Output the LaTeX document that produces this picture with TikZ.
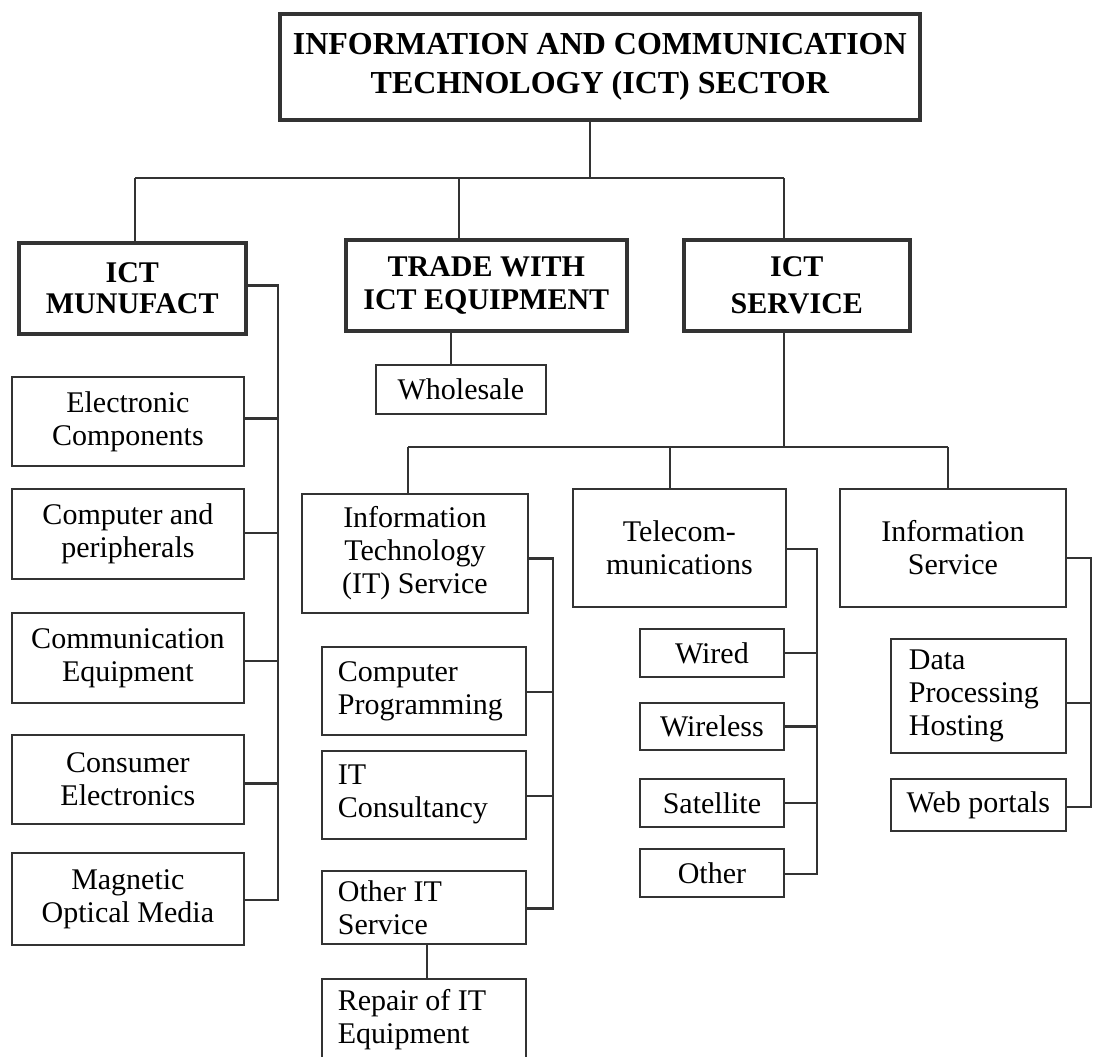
\documentclass[tikz,border=0pt]{standalone}
\usepackage{fontspec}
\setmainfont{Liberation Serif}
\definecolor{linec}{HTML}{333333}
\hyphenpenalty=10000
\exhyphenpenalty=10000
\begin{document}
\begin{tikzpicture}[x=1pt,y=-1pt,
  bigbox/.style={draw=linec, line width=3.6pt, anchor=north west, inner sep=0pt,
    align=center, font=\bfseries\fontsize{30}{33}\selectfont},
  smallbox/.style={draw=linec, line width=1.8pt, anchor=north west, inner sep=0pt,
    align=center, font=\fontsize{30}{33}\selectfont},
  leftbox/.style={smallbox, align=flush left, text width=#1},
  conn/.style={draw=linec, line width=2.6pt}]
\useasboundingbox (0,0) rectangle (1093,1057);
\fill[white] (0,0) rectangle (1093,1057);

% level 0
\node[bigbox, minimum width=640, minimum height=106, font=\bfseries\fontsize{32}{39}\selectfont]
  (top) at (278,12) {INFORMATION AND COMMUNICATION\\TECHNOLOGY (ICT) SECTOR};

% level 1
\node[bigbox, minimum width=227, minimum height=91, font=\bfseries\fontsize{30}{31}\selectfont]
  (mf) at (17,241) {ICT\\MUNUFACT};
\node[bigbox, minimum width=281, minimum height=91] (tr) at (344,238) {TRADE WITH\\ICT EQUIPMENT};
\node[bigbox, minimum width=226, minimum height=91, font=\bfseries\fontsize{30}{37}\selectfont]
  (sv) at (682,238) {ICT\\SERVICE};

% manufacturing column
\node[smallbox, minimum width=232, minimum height=89] (ec) at (11,376) {Electronic\\Components};
\node[smallbox, minimum width=232, minimum height=90] (cp) at (11,488) {Computer and\\peripherals};
\node[smallbox, minimum width=232, minimum height=90] (ce) at (11,612) {Communication\\Equipment};
\node[smallbox, minimum width=232, minimum height=89] (cs) at (11,734) {Consumer\\Electronics};
\node[smallbox, minimum width=232, minimum height=92] (mo) at (11,852) {Magnetic\\Optical Media};

% trade
\node[smallbox, minimum width=170, minimum height=49] (ws) at (375,364) {Wholesale};

% service level 2
\node[smallbox, minimum width=226, minimum height=119] (it) at (301,493) {Information\\Technology\\(IT) Service};
\node[smallbox, minimum width=213, minimum height=118] (tc) at (572,488) {Telecom-\\munications};
\node[smallbox, minimum width=226, minimum height=118] (is) at (839,488) {Information\\Service};

% IT service children
\node[leftbox=172, minimum width=204, minimum height=88] (pg) at (321,646) {Computer\\Programming};
\node[leftbox=172, minimum width=204, minimum height=88] (cy) at (321,750) {IT\\Consultancy};
\node[leftbox=172, minimum width=204, minimum height=73] (ot) at (321,870) {Other IT\\Service};
\node[leftbox=172, minimum width=204, minimum height=82] (rp) at (321,978) {Repair of IT\\Equipment};

% telecom children
\node[smallbox, minimum width=144, minimum height=48] (wd) at (639,628) {Wired};
\node[smallbox, minimum width=144, minimum height=47] (wl) at (639,702) {Wireless};
\node[smallbox, minimum width=144, minimum height=48] (st) at (639,778) {Satellite};
\node[smallbox, minimum width=144, minimum height=48] (oh) at (639,848) {Other};

% information service children
\node[leftbox=139, minimum width=175, minimum height=114] (dp) at (890,638) {Data\\Processing\\Hosting};
\node[smallbox, minimum width=175, minimum height=52] (wp) at (890,778) {Web portals};

% bus coordinates
\coordinate (b0) at (590,178);
\coordinate (b1) at (135,178);
\coordinate (b2) at (459,178);
\coordinate (b3) at (784,178);
\coordinate (c0) at (784,447);
\coordinate (c1) at (408,447);
\coordinate (c2) at (670,447);
\coordinate (c3) at (948,447);
\coordinate (mfx) at (278,0);
\coordinate (itx) at (553,0);
\coordinate (tcx) at (817,0);
\coordinate (isx) at (1091,0);
\coordinate (wsx) at (451,0);
\coordinate (otx) at (427,0);

% level 0 -> level 1
\draw[conn] (top.south -| b0) -- (b0);
\draw[conn] (b1) -- (b3);
\draw[conn] (b1) -- (b1 |- mf.north);
\draw[conn] (b2) -- (b2 |- tr.north);
\draw[conn] (b3) -- (b3 |- sv.north);

% manufacturing
\draw[conn] ([yshift=3pt]mf.east) -- ([yshift=3pt]mf.east -| mfx) -- ([yshift=-1pt]mo.east -| mfx) -- ([yshift=-1pt]mo.east);
\draw[conn] ([yshift=3pt]ec.east) -- ([yshift=3pt]ec.east -| mfx);
\draw[conn] ([yshift=1pt]cp.east) -- ([yshift=1pt]cp.east -| mfx);
\draw[conn] ([yshift=-3pt]ce.east) -- ([yshift=-3pt]ce.east -| mfx);
\draw[conn] ([yshift=-4pt]cs.east) -- ([yshift=-4pt]cs.east -| mfx);

% trade
\draw[conn] (tr.south -| wsx) -- (ws.north -| wsx);

% service
\draw[conn] (sv.south -| c0) -- (c0);
\draw[conn] (c1) -- (c3);
\draw[conn] (c1) -- (c1 |- it.north);
\draw[conn] (c2) -- (c2 |- tc.north);
\draw[conn] (c3) -- (c3 |- is.north);

% IT service
\draw[conn] ([yshift=-5pt]it.east) -- ([yshift=-5pt]it.east -| itx) -- ([yshift=-1pt]ot.east -| itx) -- ([yshift=-1pt]ot.east);
\draw[conn] ([yshift=-1pt]pg.east) -- ([yshift=-1pt]pg.east -| itx);
\draw[conn] ([yshift=-1pt]cy.east) -- ([yshift=-1pt]cy.east -| itx);
\draw[conn] (ot.south -| otx) -- (rp.north -| otx);

% telecom
\draw[conn] ([yshift=-1pt]tc.east) -- ([yshift=-1pt]tc.east -| tcx) -- ([yshift=-1pt]oh.east -| tcx) -- ([yshift=-1pt]oh.east);
\draw[conn] (wd.east) -- (wd.east -| tcx);
\draw[conn] (wl.east) -- (wl.east -| tcx);
\draw[conn] (st.east) -- (st.east -| tcx);

% information service
\draw[conn] ([yshift=-10pt]is.east) -- ([yshift=-10pt]is.east -| isx) -- ([yshift=-2pt]wp.east -| isx) -- ([yshift=-2pt]wp.east);
\draw[conn] ([yshift=-7pt]dp.east) -- ([yshift=-7pt]dp.east -| isx);
\end{tikzpicture}
\end{document}
